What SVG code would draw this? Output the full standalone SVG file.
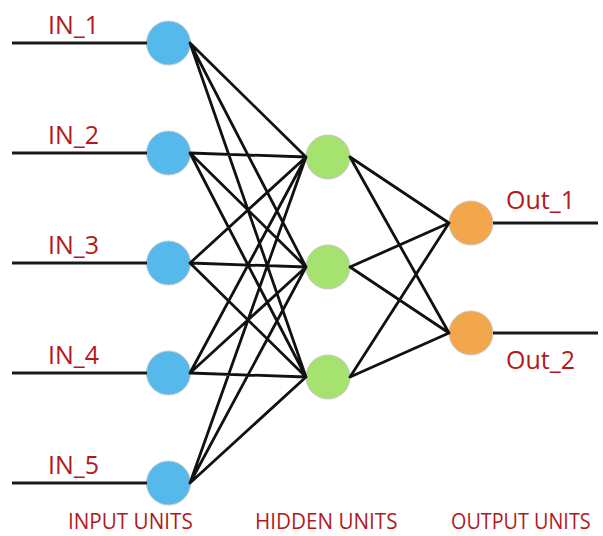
<svg xmlns="http://www.w3.org/2000/svg" width="603" height="536" viewBox="0 0 603 536">
  <style>
    .wire { stroke: #111; stroke-width: 2.8; stroke-linecap: round; fill: none; }
    .lead { stroke: #1a1a1a; stroke-width: 3; fill: none; }
    .in  { fill: #56b9ec; stroke: #c8c8c8; stroke-width: 1; }
    .hid { fill: #a6e26f; stroke: #c8c8c8; stroke-width: 1; }
    .out { fill: #f3a74d; stroke: #c8c8c8; stroke-width: 1; }
    .lbl { font-family: "Open Sans", "Noto Sans", sans-serif; font-size: 25px; fill: #b3191c; }
    .cap { font-family: "Open Sans", "Noto Sans", sans-serif; font-size: 22px; fill: #b3191c; }
  </style>

  <!-- nodes -->
  <g id="in1"><circle class="in" cx="168.5" cy="43" r="22"/><text class="lbl" x="48" y="34">IN_1</text></g>
  <g id="in2"><circle class="in" cx="168.5" cy="153" r="22"/><text class="lbl" x="48" y="144">IN_2</text></g>
  <g id="in3"><circle class="in" cx="168.5" cy="263" r="22"/><text class="lbl" x="48" y="254">IN_3</text></g>
  <g id="in4"><circle class="in" cx="168.5" cy="373" r="22"/><text class="lbl" x="48" y="364">IN_4</text></g>
  <g id="in5"><circle class="in" cx="168.5" cy="483" r="22"/><text class="lbl" x="48" y="474">IN_5</text></g>

  <g id="h1"><circle class="hid" cx="328" cy="157" r="22"/></g>
  <g id="h2"><circle class="hid" cx="328" cy="267" r="22"/></g>
  <g id="h3"><circle class="hid" cx="328" cy="377" r="22"/></g>

  <g id="o1"><circle class="out" cx="471" cy="223" r="22"/><text class="lbl" x="506" y="209">Out_1</text></g>
  <g id="o2"><circle class="out" cx="471" cy="333" r="22"/><text class="lbl" x="506" y="369">Out_2</text></g>

  <!-- layer captions (horizontally condensed) -->
  <g id="captions">
    <text class="cap" transform="translate(68 529) scale(0.94 1)">INPUT UNITS</text>
    <text class="cap" transform="translate(255 529) scale(0.94 1)">HIDDEN UNITS</text>
    <text class="cap" transform="translate(451 529) scale(0.9 1)">OUTPUT UNITS</text>
  </g>

  <!-- connectors -->
  <g id="connectors">
    <!-- input leads -->
    <path class="lead" d="M12 43H147M12 153H147M12 263H147M12 373H147M12 483H147"/>
    <!-- output leads -->
    <path class="lead" d="M493 223H598M493 333H598"/>
    <!-- input to hidden -->
    <path class="wire" d="M190 43L306 157M190 43L306 267M190 43L306 377
                          M190 153L306 157M190 153L306 267M190 153L306 377
                          M190 263L306 157M190 263L306 267M190 263L306 377
                          M190 373L306 157M190 373L306 267M190 373L306 377
                          M190 483L306 157M190 483L306 267M190 483L306 377"/>
    <!-- hidden to output -->
    <path class="wire" d="M350 157L449 223M350 157L449 333
                          M350 267L449 223M350 267L449 333
                          M350 377L449 223M350 377L449 333"/>
  </g>
</svg>
